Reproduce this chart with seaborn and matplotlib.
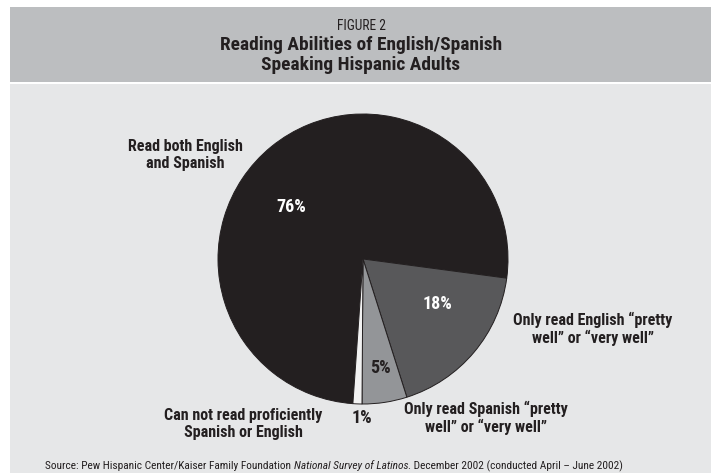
import matplotlib
matplotlib.use("Agg")
import matplotlib.pyplot as plt
import seaborn as sns
from matplotlib import font_manager as fm
from matplotlib.patches import Rectangle

# ---- data ----
categories = ["Read both English\nand Spanish",
              "Only read English \u201cpretty\nwell\u201d or \u201cvery well\u201d",
              "Only read Spanish \u201cpretty\nwell\u201d or \u201cvery well\u201d",
              "Can not read proficiently\nSpanish or English"]
values = [76, 18, 5, 1]
pct_labels = ["76%", "18%", "5%", "1%"]
slice_colors = ["#231f20", "#58585a", "#939598", "#f2f2f2"]

sns.set_theme(style="white")
names = {f.name for f in fm.fontManager.ttflist}
FAM = ["DejaVu Sans"]
STRETCH = "condensed"
for cand in ["Roboto Condensed", "Archivo Narrow", "PT Sans Narrow",
             "Liberation Sans Narrow", "Barlow Condensed", "IBM Plex Sans Condensed"]:
    if cand in names:
        FAM = [cand, "DejaVu Sans"]
        STRETCH = "normal"
        break
plt.rcParams["font.family"] = FAM

W, H = 711, 473
fig = plt.figure(figsize=(W / 100, H / 100), dpi=100)
fig.patch.set_facecolor("white")
fig.canvas.draw()
REN = fig.canvas.get_renderer()

def px(x, y):
    return x / W, 1 - y / H

# backgrounds
fig.patches.append(Rectangle(px(10, 82), (W - 10) / W, 75 / H, transform=fig.transFigure,
                             facecolor="#bcbec0", edgecolor="none", zorder=-5))
fig.patches.append(Rectangle(px(10, H), (W - 10) / W, (H - 84) / H, transform=fig.transFigure,
                             facecolor="#e6e7e8", edgecolor="none", zorder=-5))

TXT = "#231f20"

def t(x, y, s, size, weight="bold", color=TXT, ha="center", style="normal"):
    return fig.text(*px(x, y), s, fontsize=size, fontweight=weight, color=color,
                    ha=ha, va="center", fontstretch=STRETCH, style=style,
                    linespacing=1.1, zorder=10)

def fit_size(s, target_w, weight="bold", style="normal", ref=10.0):
    tmp = fig.text(0, 0, s, fontsize=ref, fontweight=weight, style=style,
                   fontstretch=STRETCH)
    w = tmp.get_window_extent(renderer=REN).width
    tmp.remove()
    return ref * target_w / w

title_sz = min(0.5 * (fit_size("Reading Abilities of English/Spanish", 275)
                      + fit_size("Speaking Hispanic Adults", 205)), 16)
fig_sz = min(fit_size("FIGURE 2", 49, weight="normal"), 11)
lab_sz = min(fit_size("Read both English", 115), 12)
pct_sz = min(fit_size("76%", 30), 13)

# header
t(361, 26, "FIGURE 2", fig_sz, weight="normal")
t(361, 45, "Reading Abilities of English/Spanish", title_sz)
t(361, 65, "Speaking Hispanic Adults", title_sz)

# pie
cx, cy, r = 363, 259, 145
ax = fig.add_axes([(cx - r) / W, (H - cy - r) / H, 2 * r / W, 2 * r / H])
ax.set_zorder(2)
ax.patch.set_alpha(0)
ax.pie(values, colors=slice_colors, startangle=266, counterclock=False, radius=1,
       wedgeprops=dict(edgecolor="#231f20", linewidth=0.7))
ax.set_xlim(-1.0, 1.0)
ax.set_ylim(-1.0, 1.0)
ax.set_aspect("equal")
ax.axis("off")

# percentage labels
t(291, 207, pct_labels[0], pct_sz, color="white")
t(437, 304, pct_labels[1], pct_sz, color="white")
t(380, 368, pct_labels[2], pct_sz)
t(362, 418, pct_labels[3], pct_sz)

# category labels
t(185, 155, categories[0], lab_sz)
t(593, 329, categories[1], lab_sz)
t(486, 418, categories[2], lab_sz)
t(243, 424, categories[3], lab_sz)

# source line with italic title
parts = [("Source: Pew Hispanic Center/Kaiser Family Foundation ", "normal"),
         ("National Survey of Latinos", "italic"),
         (". December 2002 (conducted April \u2013 June 2002)", "normal")]
tot = 0
for s, st in parts:
    tmp = fig.text(0, 0, s, fontsize=10, style=st, fontstretch=STRETCH)
    tot += tmp.get_window_extent(renderer=REN).width
    tmp.remove()
src_sz = min(10 * 578 / tot, 9)
x = 45
for s, st in parts:
    tt = t(x, 466, s, src_sz, weight="normal", ha="left", style=st)
    x += tt.get_window_extent(renderer=REN).width

fig.savefig("out.png", dpi=100)
